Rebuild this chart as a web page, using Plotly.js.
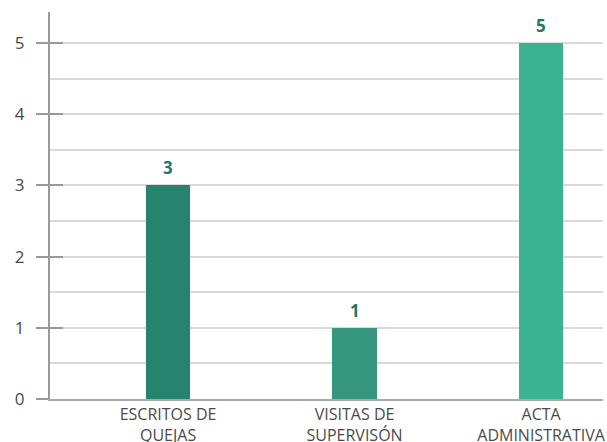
<!DOCTYPE html>
<html>
<head>
<meta charset="utf-8">
<script src="https://cdn.plot.ly/plotly-3.0.1.min.js"></script>
<style>html,body{margin:0;padding:0;background:#fff}#chart{width:607px;height:442px}</style>
</head>
<body>
<div id="chart"></div>
<script>
const categories = ["ESCRITOS DE<br>QUEJAS", "VISITAS DE<br>SUPERVISÓN", "ACTA<br>ADMINISTRATIVA"];
const values = [3, 1, 5];
const barColors = ["#26846e", "#36977e", "#3ab393"];
const yTicks = [0, 1, 2, 3, 4, 5];

const traces = [{
  type: "bar",
  x: categories,
  y: values,
  width: 0.24,
  marker: {color: barColors, line: {width: 0}},
  hoverinfo: "none"
}, {
  type: "scatter", x: [categories[0]], y: [0], yaxis: "y2", mode: "markers",
  marker: {opacity: 0}, hoverinfo: "none", showlegend: false
}];

const annotations = values.map((v, i) => ({
  x: categories[i], y: v, text: String(v), showarrow: false,
  yanchor: "bottom", yshift: 4,
  font: {family: "Open Sans", size: 17, color: "#23765f", weight: "bold"}
}));

const layout = {
  width: 607, height: 442,
  margin: {l: 50, r: 4, t: 12, b: 43},
  paper_bgcolor: "#fff", plot_bgcolor: "#fff",
  showlegend: false,
  bargap: 0,
  xaxis: {
    type: "category",
    range: [-0.633, 2.332],
    showgrid: false, zeroline: false,
    showline: true, linecolor: "#aaaaaa", linewidth: 2,
    ticks: "", tickfont: {family: "Open Sans", size: 16, color: "#4a4a4a"},
    fixedrange: true
  },
  yaxis: {
    range: [0, 5.435],
    tickvals: yTicks,
    ticktext: yTicks.map(String),
    showgrid: true, gridcolor: "#d9d9d9", gridwidth: 2,
    minor: {dtick: 0.5, showgrid: true, gridcolor: "#d9d9d9", gridwidth: 2},
    zeroline: false,
    showline: true, linecolor: "#999999", linewidth: 2,
    ticks: "outside", ticklen: 12, tickwidth: 2, tickcolor: "#999999",
    ticklabelstandoff: 8,
    tickfont: {family: "Open Sans", size: 17, color: "#4a4a4a"},
    fixedrange: true
  },
  yaxis2: {
    overlaying: "y", side: "left", range: [0, 5.435],
    tickvals: yTicks, showticklabels: false,
    showgrid: false, zeroline: false, showline: false,
    ticks: "inside", ticklen: 13, tickwidth: 2, tickcolor: "#999999",
    fixedrange: true
  },
  annotations: annotations
};

Plotly.newPlot("chart", traces, layout, {displayModeBar: false, staticPlot: true});
</script>
</body>
</html>
